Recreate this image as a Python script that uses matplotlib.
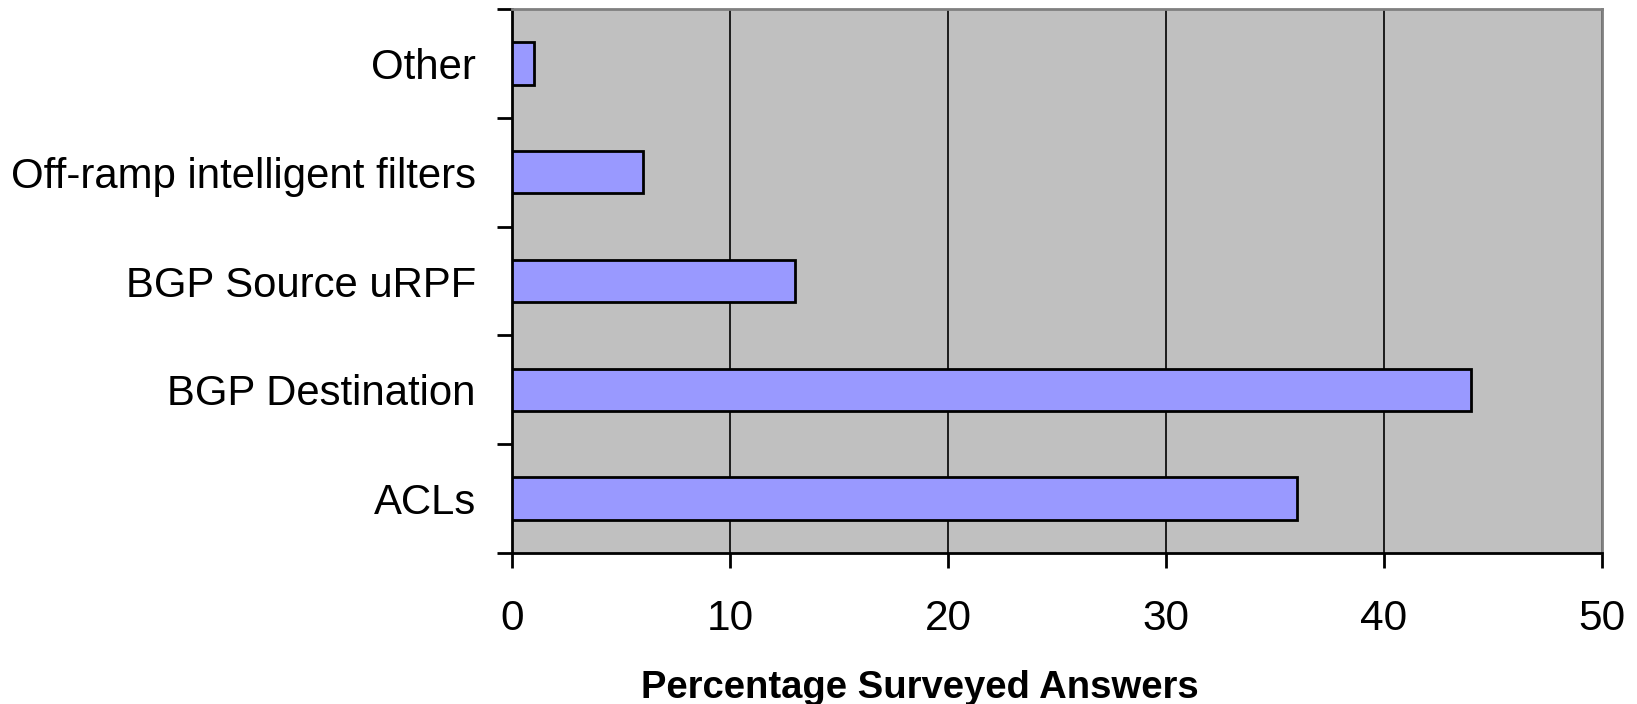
import matplotlib
matplotlib.use("Agg")
import matplotlib.pyplot as plt
import numpy as np

# Данные с графика (снизу вверх)
categories = ["ACLs", "BGP Destination", "BGP Source uRPF",
              "Off-ramp intelligent filters", "Other"]
values = [36, 44, 13, 6, 1]
xticks = [0, 10, 20, 30, 40, 50]

plt.rcParams['font.family'] = ['Liberation Sans', 'DejaVu Sans']

fig = plt.figure(figsize=(16.37, 7.04), dpi=100)
ax = fig.add_axes([0.3128, 0.2145, 0.6658, 0.7727])
ax.set_facecolor('#C0C0C0')

y = np.arange(len(categories))
ax.barh(y, values, height=0.39, color='#9999FF', edgecolor='black',
        linewidth=2, zorder=3)

ax.set_xlim(0, 50)
ax.set_ylim(-0.5, len(categories) - 0.5)
ax.set_xticks(xticks)
ax.set_xticklabels([str(t) for t in xticks], fontsize=30.5)

# подписи категорий по центру, засечки между категориями
ax.set_yticks(y)
ax.set_yticklabels(categories, fontsize=30.2)
ax.set_yticks(np.arange(-0.5, len(categories), 1.0), minor=True)
ax.tick_params(axis='y', which='major', length=0, pad=26)
ax.tick_params(axis='y', which='minor', length=11, width=2, direction='out')
ax.tick_params(axis='x', which='major', length=11, width=2, direction='out', pad=22)

ax.grid(axis='x', color='black', linewidth=1.2, zorder=1)
ax.set_axisbelow(True)

for s in ['left', 'bottom']:
    ax.spines[s].set_color('black')
    ax.spines[s].set_linewidth(2)
for s in ['top', 'right']:
    ax.spines[s].set_color('#808080')
    ax.spines[s].set_linewidth(2)

ax.set_xlabel("Percentage Surveyed Answers", fontsize=27.5, fontweight='bold')
ax.xaxis.set_label_coords(0.374, -0.249)
ax.xaxis.label.set_va('center')

fig.savefig("out.png", dpi=100)
